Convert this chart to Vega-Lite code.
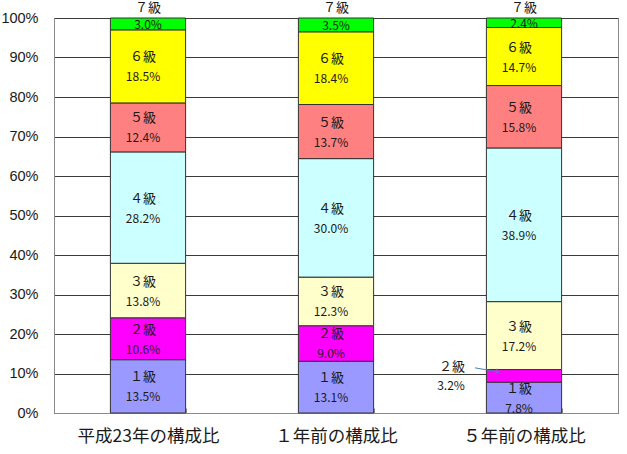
{
  "$schema": "https://vega.github.io/schema/vega-lite/v6.json",
  "width": 564,
  "height": 395,
  "autosize": {"type": "none"},
  "padding": {"left": 54, "top": 18, "right": 9, "bottom": 41},
  "background": "white",
  "config": {
    "view": {"stroke": "#8a8a8a", "strokeWidth": 1},
    "font": "Noto Sans CJK JP",
    "axisY": {
      "labelFont": "Liberation Sans",
      "labelFontSize": 14.5,
      "labelColor": "#1a1a1a",
      "labelPadding": 16,
      "labelOverlap": false,
      "labelFlush": false,
      "ticks": false,
      "tickSize": 0,
      "domainColor": "#8a8a8a",
      "grid": true,
      "gridColor": "#3a3a3a",
      "gridOpacity": 1
    }
  },
  "data": {
    "values": [
      {"cat": "平成23年の構成比", "grade": "1級", "value": 13.5},
      {"cat": "平成23年の構成比", "grade": "2級", "value": 10.6},
      {"cat": "平成23年の構成比", "grade": "3級", "value": 13.8},
      {"cat": "平成23年の構成比", "grade": "4級", "value": 28.2},
      {"cat": "平成23年の構成比", "grade": "5級", "value": 12.4},
      {"cat": "平成23年の構成比", "grade": "6級", "value": 18.5},
      {"cat": "平成23年の構成比", "grade": "7級", "value": 3.0},
      {"cat": "１年前の構成比", "grade": "1級", "value": 13.1},
      {"cat": "１年前の構成比", "grade": "2級", "value": 9.0},
      {"cat": "１年前の構成比", "grade": "3級", "value": 12.3},
      {"cat": "１年前の構成比", "grade": "4級", "value": 30.0},
      {"cat": "１年前の構成比", "grade": "5級", "value": 13.7},
      {"cat": "１年前の構成比", "grade": "6級", "value": 18.4},
      {"cat": "１年前の構成比", "grade": "7級", "value": 3.5},
      {"cat": "５年前の構成比", "grade": "1級", "value": 7.8},
      {"cat": "５年前の構成比", "grade": "2級", "value": 3.2},
      {"cat": "５年前の構成比", "grade": "3級", "value": 17.2},
      {"cat": "５年前の構成比", "grade": "4級", "value": 38.9},
      {"cat": "５年前の構成比", "grade": "5級", "value": 15.8},
      {"cat": "５年前の構成比", "grade": "6級", "value": 14.7},
      {"cat": "５年前の構成比", "grade": "7級", "value": 2.4}
    ]
  },
  "transform": [
    {"stack": "value", "groupby": ["cat"], "sort": [{"field": "grade"}], "as": ["y0", "y1"]},
    {"calculate": "(datum.y0 + datum.y1) / 2", "as": "mid"},
    {"calculate": "format(datum.value, '.1f') + '%'", "as": "pct"},
    {"calculate": "replace(replace(replace(replace(replace(replace(replace(datum.grade,'1','１'),'2','２'),'3','３'),'4','４'),'5','５'),'6','６'),'7','７')", "as": "glabel"}
  ],
  "encoding": {
    "x": {
      "field": "cat",
      "type": "nominal",
      "sort": ["平成23年の構成比", "１年前の構成比", "５年前の構成比"],
      "scale": {"paddingInner": 0.6, "paddingOuter": 0.3},
      "axis": {
        "title": null,
        "labelAngle": 0,
        "labelFontSize": 17.5,
        "labelColor": "#1a1a1a",
        "labelPadding": 19,
        "tickBand": "extent",
        "tickSize": -5,
        "tickColor": "#8a8a8a",
        "domainColor": "#8a8a8a",
        "grid": false
      }
    }
  },
  "layer": [
    {
      "mark": {"type": "bar", "stroke": "#333333", "strokeWidth": 1},
      "encoding": {
        "y": {
          "field": "y0",
          "type": "quantitative",
          "scale": {"domain": [0, 100], "nice": false},
          "axis": {
            "title": null,
            "values": [0, 10, 20, 30, 40, 50, 60, 70, 80, 90, 100],
            "labelExpr": "datum.value + '%'"
          }
        },
        "y2": {"field": "y1"},
        "color": {
          "field": "grade",
          "type": "nominal",
          "scale": {
            "domain": ["1級", "2級", "3級", "4級", "5級", "6級", "7級"],
            "range": ["#9999FF", "#FF00FF", "#FFFFCC", "#CCFFFF", "#FF8080", "#FFFF00", "#00FF00"]
          },
          "legend": null
        }
      }
    },
    {
      "transform": [{"filter": "datum.grade != '7級' && !(datum.grade == '2級' && datum.cat == '５年前の構成比')"}],
      "mark": {"type": "text", "fontSize": 13, "color": "#1a1a1a", "dy": -9, "dx": -5, "baseline": "middle"},
      "encoding": {"y": {"field": "mid", "type": "quantitative", "axis": {"title": null, "values": [0, 10, 20, 30, 40, 50, 60, 70, 80, 90, 100], "labelExpr": "datum.value + '%'"}}, "text": {"field": "glabel"}}
    },
    {
      "transform": [{"filter": "datum.grade != '7級' && !(datum.grade == '2級' && datum.cat == '５年前の構成比')"}],
      "mark": {"type": "text", "fontSize": 12, "color": "#1a1a1a", "dy": 11, "dx": -5, "baseline": "middle"},
      "encoding": {"y": {"field": "mid", "type": "quantitative", "axis": {"title": null, "values": [0, 10, 20, 30, 40, 50, 60, 70, 80, 90, 100], "labelExpr": "datum.value + '%'"}}, "text": {"field": "pct"}}
    },
    {
      "transform": [{"filter": "datum.grade == '7級'"}],
      "mark": {"type": "text", "fontSize": 13, "color": "#1a1a1a", "dy": -10, "baseline": "middle"},
      "encoding": {"y": {"field": "y1", "type": "quantitative", "axis": {"title": null, "values": [0, 10, 20, 30, 40, 50, 60, 70, 80, 90, 100], "labelExpr": "datum.value + '%'"}}, "text": {"field": "glabel"}}
    },
    {
      "transform": [{"filter": "datum.grade == '7級'"}],
      "mark": {"type": "text", "fontSize": 12, "color": "#1a1a1a", "dy": 1, "baseline": "middle"},
      "encoding": {"y": {"field": "mid", "type": "quantitative", "axis": {"title": null, "values": [0, 10, 20, 30, 40, 50, 60, 70, 80, 90, 100], "labelExpr": "datum.value + '%'"}}, "text": {"field": "pct"}}
    },
    {
      "transform": [{"filter": "datum.grade == '2級' && datum.cat == '５年前の構成比'"}],
      "mark": {"type": "text", "fontSize": 13, "color": "#1a1a1a", "dx": -72, "dy": -9, "baseline": "middle"},
      "encoding": {"y": {"field": "mid", "type": "quantitative", "axis": {"title": null, "values": [0, 10, 20, 30, 40, 50, 60, 70, 80, 90, 100], "labelExpr": "datum.value + '%'"}}, "text": {"field": "glabel"}}
    },
    {
      "transform": [{"filter": "datum.grade == '2級' && datum.cat == '５年前の構成比'"}],
      "mark": {"type": "text", "fontSize": 12, "color": "#1a1a1a", "dx": -73, "dy": 10, "baseline": "middle"},
      "encoding": {"y": {"field": "mid", "type": "quantitative", "axis": {"title": null, "values": [0, 10, 20, 30, 40, 50, 60, 70, 80, 90, 100], "labelExpr": "datum.value + '%'"}}, "text": {"field": "pct"}}
    },
    {
      "transform": [{"filter": "datum.grade == '2級' && datum.cat == '５年前の構成比'"}],
      "mark": {"type": "rule", "color": "#4a7ebb", "strokeWidth": 1, "xOffset": -49, "x2Offset": -25, "yOffset": -8, "y2Offset": -4},
      "encoding": {
        "y": {"field": "mid", "type": "quantitative", "axis": {"title": null, "values": [0, 10, 20, 30, 40, 50, 60, 70, 80, 90, 100], "labelExpr": "datum.value + '%'"}},
        "y2": {"field": "mid"},
        "x2": {"field": "cat"}
      }
    },
    {
      "transform": [{"filter": "datum.grade == '2級' && datum.cat == '５年前の構成比'"}],
      "mark": {"type": "point", "shape": "M-1,-0.7L0,0L-1,0.7", "filled": false, "stroke": "#4a7ebb", "strokeWidth": 1, "size": 50, "angle": 10, "xOffset": -25, "yOffset": -4, "opacity": 1},
      "encoding": {
        "y": {"field": "mid", "type": "quantitative", "axis": {"title": null, "values": [0, 10, 20, 30, 40, 50, 60, 70, 80, 90, 100], "labelExpr": "datum.value + '%'"}}
      }
    }
  ]
}
